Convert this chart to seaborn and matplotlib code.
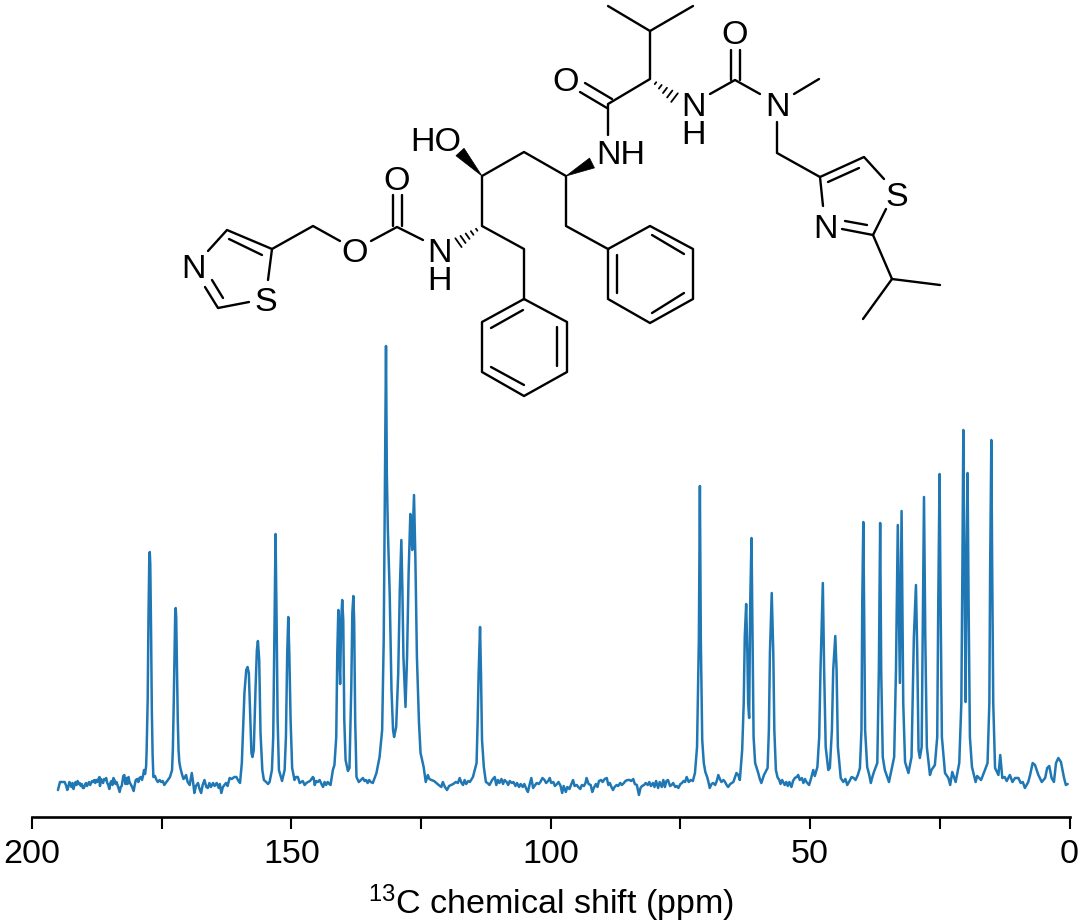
"""
13C NMR spectrum with the molecule drawn above it.
Spectrum values are read off the picture: (ppm, intensity), intensity in arbitrary units.
"""
import matplotlib
matplotlib.use('Agg')
import matplotlib.pyplot as plt
import pandas as pd
import seaborn as sns

# Spectrum, high ppm to low ppm
carbonyl_left = [
    (195.0, 0), (194.8, 4), (194.6, 8), (194.3, 8), (194.0, 8), (193.7, 8), (193.4, 4), (193.2, 0),
    (193.0, 3), (192.8, 8), (192.6, 6), (192.4, 3), (192.2, 7), (192.0, 1), (191.8, 5), (191.6, 8),
    (191.4, 5), (191.2, 9), (191.0, 6), (190.8, 7), (190.6, 4), (190.4, 6), (190.2, 2), (190.0, 2),
    (189.8, 5), (189.6, 7), (189.4, 4), (189.2, 6), (189.0, 8), (188.8, 5), (188.6, 7), (188.4, 9),
    (188.2, 8), (188.0, 10), (187.8, 7), (187.6, 10), (187.4, 8), (187.2, 11), (187.0, 13), (186.9, 4),
    (186.7, 11), (186.5, 9), (186.3, 7), (186.1, 11), (185.9, 10), (185.7, 12), (185.5, 7), (185.3, 5),
    (185.1, 1), (184.9, 7), (184.7, 9), (184.5, 5), (184.3, 12), (184.1, 10), (183.9, 6), (183.7, 8),
    (183.4, 3), (183.1, -2), (182.9, 3), (182.7, 4), (182.4, 14), (182.2, 15), (182.0, 6), (181.8, 12),
    (181.6, 6), (181.4, 13), (181.2, 8), (181.0, 6), (180.7, 3), (180.4, -1), (180.2, 5), (180.0, 10),
    (179.7, 11), (179.5, 8), (179.3, 12), (179.0, 13), (178.8, 10), (178.6, 14), (178.4, 20), (178.2, 16),
    (178.0, 24),
]
carbonyl_peaks = [
    (177.9, 40), (177.7, 90), (177.55, 170), (177.4, 228), (177.3, 238), (177.2, 226), (177.05, 160),
    (176.9, 80), (176.75, 35), (176.6, 13), (176.3, 14), (176.0, 10), (175.75, 8), (175.4, 10), (175.1, 8),
    (174.8, 9), (174.5, 5), (174.1, 8), (173.8, 10), (173.4, 13), (173.0, 20), (172.85, 40), (172.7, 80),
    (172.55, 130), (172.4, 175), (172.3, 182), (172.2, 172), (172.05, 120), (171.9, 70), (171.75, 40),
    (171.6, 28), (171.4, 22), (171.1, 16), (170.8, 11), (170.6, 12), (170.3, 15), (170.0, 8), (169.6, 5),
    (169.2, 17), (168.95, 8), (168.7, -3), (168.4, 4), (168.0, 7), (167.7, 1), (167.4, -3), (167.1, 5),
    (166.75, 10), (166.4, 3), (166.1, 2), (165.8, 7), (165.5, 3), (165.1, 7), (164.8, 4), (164.4, 7),
    (164.0, 2), (163.8, 6), (163.5, -3), (163.2, 3), (162.9, 5), (162.6, 7), (162.3, 4), (161.9, 12),
    (161.5, 11), (161.0, 13), (160.6, 13), (160.3, 10), (159.9, 7),
]
aromatic_peaks = [
    (159.55, 27), (159.05, 97), (158.7, 120), (158.45, 123), (158.2, 117), (157.9, 70), (157.7, 37),
    (157.5, 33), (157.25, 40), (156.9, 103), (156.65, 140), (156.45, 149), (156.2, 130), (155.95, 57),
    (155.6, 20), (155.3, 10), (154.85, 8), (154.5, 6), (154.2, 8), (153.75, 20), (153.5, 53), (153.25, 170),
    (153.05, 256), (152.85, 170), (152.65, 70), (152.4, 20), (151.8, 9), (151.3, 20), (151.05, 53),
    (150.8, 137), (150.6, 173), (150.4, 137), (150.15, 70), (149.85, 22), (149.4, 10), (149.1, 13),
    (148.75, 13), (148.4, 7), (148.1, 8), (147.8, 9), (147.45, 5), (147.1, 7), (146.8, 8), (146.4, 9),
    (145.85, 13), (145.7, 12), (145.5, 5), (145.2, 9), (144.9, 8), (144.55, 10), (144.2, 6), (143.9, 3),
    (143.6, 8), (143.3, 5), (143.0, 8), (142.7, 6), (142.45, 5), (142.0, 20), (141.7, 25), (141.35, 53),
    (141.15, 137), (140.95, 180), (140.8, 137), (140.6, 106), (140.4, 170), (140.2, 190), (140.0, 170),
    (139.8, 70), (139.55, 30), (139.1, 19), (138.8, 22), (138.45, 103), (138.25, 177), (138.05, 194),
    (137.9, 170), (137.7, 70), (137.45, 13), (137.0, 8), (136.6, 10), (136.2, 12), (135.9, 9), (135.6, 10),
    (135.3, 7), (135.0, 10), (134.7, 8), (134.3, 7), (133.6, 17), (133.0, 33), (132.5, 60), (132.2, 150),
    (132.0, 283), (131.76, 444), (131.6, 317), (131.4, 260), (131.05, 197), (130.7, 100), (130.4, 60),
    (130.2, 53), (129.8, 63), (129.4, 117), (129.1, 200), (128.8, 250), (128.6, 200), (128.4, 133), (128.0, 83),
    (127.7, 133), (127.4, 217), (127.07, 276), (126.9, 257), (126.7, 240), (126.36, 295), (126.1, 233),
    (125.8, 133), (125.4, 67), (125.1, 37), (124.5, 23), (124.1, 8), (123.7, 15), (123.4, 11), (123.0, 10),
    (122.5, 9), (122.05, 7), (121.6, 5), (121.1, 3), (120.8, 8), (120.4, 3), (120.0, 0), (119.6, 4), (119.2, 5),
    (118.8, 6), (118.3, 8), (117.9, 7), (117.55, 12), (117.2, 7), (116.9, 5), (116.6, 10), (116.3, 6),
    (115.9, 9), (115.6, 8), (115.0, 13), (114.3, 27), (114.1, 67), (113.9, 117), (113.63, 163), (113.45, 117),
    (113.25, 50), (112.9, 23), (112.5, 8), (112.2, 7), (111.8, 5), (111.3, 10), (110.8, 13), (110.5, 5),
]
empty_middle = [
    (110.2, 10), (109.9, 7), (109.5, 11), (109.2, 6), (108.9, 10), (108.5, 8), (108.2, 5), (107.9, 9),
    (107.5, 7), (107.2, 8), (106.8, 4), (106.5, 7), (106.1, 3), (105.8, 6), (105.4, 3), (105.1, 6),
    (104.7, 1), (104.4, -2), (104.1, 5), (103.75, 12), (103.4, 2), (103.0, 5), (102.7, 7), (102.3, 6),
    (102.0, 8), (101.6, 12), (101.2, 10), (100.9, 7), (100.5, 9), (100.2, 12), (99.9, 7), (99.5, 8),
    (99.2, 4), (98.8, 6), (98.5, 8), (98.1, 4), (97.8, -3), (97.5, 4), (97.1, -2), (96.8, 3), (96.4, 1),
    (96.1, 5), (95.7, 10), (95.4, 4), (95.0, 5), (94.7, 3), (94.3, 1), (94.0, 5), (93.6, 4), (93.3, 7),
    (93.1, 12), (92.7, 6), (92.3, 5), (92.0, -2), (91.7, 2), (91.3, 6), (91.0, 3), (90.7, 9), (90.3, 10),
    (90.0, 8), (89.6, 11), (89.2, 12), (88.9, 5), (88.6, 7), (88.3, 3), (88.0, 0), (87.7, 3), (87.3, 5),
    (87.0, 4), (86.6, 7), (86.3, 5), (85.9, 7), (85.6, 9), (85.2, 10), (84.8, 10), (84.5, 9), (84.1, 11),
    (83.8, 6), (83.4, 5), (83.0, -5), (82.7, 2), (82.4, 4), (82.0, 5), (81.7, 7), (81.3, 5), (81.0, 8),
    (80.7, 4), (80.3, 7), (80.0, 3), (79.7, 9), (79.3, 2), (79.0, 8), (78.6, 3), (78.3, 10), (78.0, 3),
    (77.7, 9), (77.4, 10), (77.0, 4), (76.7, 5), (76.4, 7), (76.0, 3), (75.7, 4), (75.4, 2), (75.0, 6),
    (74.7, 7), (74.4, 9), (74.1, 8), (73.8, 13), (73.4, 8), (73.0, 10), (72.6, 9),
]
aliphatic_peaks = [
    (72.2, 17), (71.8, 43), (71.45, 150), (71.25, 304), (71.07, 150), (70.8, 50), (70.5, 27), (70.2, 18),
    (69.85, 13), (69.6, 8), (69.35, 2), (69.0, 6), (68.7, 7), (68.3, 5), (68.0, 9), (67.7, 15), (67.4, 11),
    (67.1, 8), (66.7, 10), (66.4, 8), (66.1, 5), (65.8, 3), (65.4, 6), (64.8, 8), (64.2, 17), (63.85, 15),
    (63.55, 10), (63.1, 40), (62.8, 87), (62.6, 153), (62.33, 186), (62.1, 137), (61.95, 87), (61.75, 72),
    (61.55, 187), (61.3, 252), (61.1, 153), (60.9, 53), (60.6, 27), (60.0, 17), (59.7, 11), (59.4, 7),
    (58.9, 15), (58.2, 22), (57.95, 60), (57.75, 137), (57.4, 197), (57.1, 137), (56.9, 60), (56.6, 20),
    (56.3, 13), (55.95, 10), (55.7, 6), (55.4, 10), (55.2, 8), (54.9, 5), (54.6, 8), (54.3, 4), (54.0, 8),
    (53.6, 3), (53.3, 9), (52.95, 12), (52.6, 13), (52.3, 15), (52.0, 10), (51.6, 12), (51.3, 7), (51.0, 11),
    (50.7, 8), (50.2, 5), (49.8, 12), (49.4, 20), (49.1, 14), (48.6, 23), (48.25, 53), (48.0, 120), (47.55, 207),
    (47.3, 120), (47.0, 43), (46.5, 20), (46.2, 22), (45.8, 60), (45.55, 120), (45.15, 154), (44.9, 120),
    (44.65, 43), (44.1, 12), (43.6, 8), (43.2, 11), (42.85, 5), (42.4, 9), (42.0, 13), (41.6, 12), (41.25, 10),
    (40.8, 15), (40.4, 22), (40.1, 60), (39.95, 187), (39.75, 268), (39.6, 187), (39.4, 60), (39.0, 23),
    (38.6, 15), (38.3, 7), (38.0, 13), (37.7, 18), (37.05, 27), (36.75, 120), (36.5, 267), (36.3, 120), (36.0, 33),
    (35.6, 20), (35.2, 14), (34.8, 8), (34.4, 18), (33.8, 33), (33.45, 120), (33.1, 265), (32.7, 107),
    (32.37, 279), (32.05, 87), (31.7, 28), (31.05, 17), (30.45, 33), (30.0, 153), (29.6, 205), (29.35, 137),
    (29.1, 40), (28.85, 32), (28.5, 43), (28.3, 153), (28.05, 293), (27.8, 153), (27.5, 43), (26.9, 15),
    (26.6, 20), (25.95, 25), (25.5, 53), (25.3, 187), (25.05, 316), (24.85, 187), (24.6, 53), (24.0, 17),
    (23.35, 12), (23.0, 5), (22.6, 18), (21.95, 8), (21.25, 27), (20.85, 87), (20.65, 220), (20.47, 360),
    (20.2, 187), (20.03, 88), (19.85, 220), (19.65, 317), (19.45, 187), (19.2, 53), (18.8, 23), (18.1, 8),
    (17.8, 14), (17.05, 10), (16.3, 20), (15.8, 27), (15.45, 87), (15.3, 220), (15.07, 350), (14.9, 220),
    (14.7, 87), (14.35, 22), (13.7, 15), (13.35, 35), (12.95, 12), (12.5, 13), (12.1, 9), (11.5, 15),
    (11.0, 8), (10.5, 12), (9.85, 12), (9.4, 7), (9.0, 8), (8.6, 2), (7.95, 8), (7.6, 15), (7.1, 27),
    (6.65, 25), (6.0, 15), (5.35, 8), (4.7, 12), (4.3, 22), (3.9, 24), (3.45, 12), (3.0, 8), (2.6, 27),
    (2.15, 32), (1.65, 28), (1.05, 12), (0.7, 5), (0.35, 6),
]

tick_ppm = [200, 175, 150, 125, 100, 75, 50, 25, 0]
tick_labels = ['200', '', '150', '', '100', '', '50', '', '0']
x_label = '$^{13}$C chemical shift (ppm)'

# Molecule, in picture pixels
bonds = [
    # left thiazole
    [(208, 251), (227, 230), (272, 249), (268, 280)], [(229, 239), (262, 255)],
    [(249, 302), (218, 308), (205, 287)], [(223, 298), (212, 280)],
    # carbamate
    [(272, 249), (313, 226), (340, 241)], [(371, 241), (397, 227), (423, 240)],
    [(393, 226), (393, 195)], [(402, 226), (402, 195)],
    # backbone
    [(482, 226), (482, 176), (524, 152), (566, 176), (566, 226), (608, 249)],
    [(482, 226), (524, 249), (524, 299)],
    # lower phenyl
    [(524, 299), (482, 322), (482, 372), (524, 396), (567, 372), (567, 322), (524, 299)],
    [(491, 328), (523, 310)], [(491, 367), (524, 385)], [(557, 327), (557, 366)],
    # upper phenyl
    [(608, 249), (650, 226), (693, 249), (693, 299), (650, 323), (608, 299), (608, 249)],
    [(652, 235), (684, 254)], [(617, 255), (617, 293)], [(652, 313), (684, 293)],
    # valine
    [(608, 135), (608, 104), (650, 79), (650, 31)], [(608, 6), (650, 31), (693, 6)],
    [(580, 92), (607, 108)], [(585, 83), (612, 99)],
    # urea
    [(710, 94), (735, 80), (760, 94)], [(731, 80), (731, 50)], [(740, 80), (740, 50)],
    [(794, 94), (819, 79)], [(777, 122), (777, 153), (820, 177)],
    # right thiazole
    [(823, 206), (820, 177), (864, 157), (884, 179)], [(828, 182), (859, 168)],
    [(886, 209), (873, 235), (842, 229)], [(845, 221), (867, 225)],
    [(873, 235), (892, 279), (940, 285)], [(892, 279), (863, 319)],
]
atom_labels = [
    ('N', 194, 266), ('S', 266, 299), ('O', 355, 250), ('O', 397, 178), ('N', 440, 250), ('H', 440, 278),
    ('HO', 436, 139), ('NH', 621, 152), ('O', 566, 79), ('N', 693, 104), ('H', 693, 132), ('O', 735, 32),
    ('N', 777, 104), ('S', 897, 194), ('N', 825, 226),
]
solid_wedges = [((482, 176), (460, 152)), ((566, 176), (592, 163))]
hash_wedges = [((482, 226), (458, 243)), ((650, 79), (675, 98))]

df = pd.DataFrame(carbonyl_left + carbonyl_peaks + aromatic_peaks + empty_middle + aliphatic_peaks,
                  columns=['ppm', 'intensity'])

sns.set_theme(style='white')
plt.rcParams['font.family'] = ['Liberation Sans', 'DejaVu Sans']
plt.rcParams['mathtext.fontset'] = 'custom'
plt.rcParams['mathtext.rm'] = 'Liberation Sans'
plt.rcParams['mathtext.default'] = 'regular'

W, H = 1080, 924
fig = plt.figure(figsize=(W / 100, H / 100), dpi=100)

# Spectrum
ax = fig.add_axes([32 / W, 1 - 817 / H, (1069.5 - 32) / W, (817 - 340) / H])
sns.lineplot(data=df, x='ppm', y='intensity', sort=False, estimator=None, errorbar=None,
             color='#1f77b4', linewidth=1.8, ax=ax)
ax.set_xlim(200, 0)
ax.set_ylim(-27, 450)
ax.set_xticks(tick_ppm)
ax.set_xticklabels(tick_labels)
ax.set_yticks([])
ax.set_ylabel('')
ax.set_xlabel(x_label, fontsize=24.5, color='black', labelpad=8.5)
ax.tick_params(axis='x', bottom=True, length=8.6, width=1.5, pad=7.5, labelsize=24.5, colors='black')
sns.despine(ax=ax, left=True)
ax.spines['bottom'].set_linewidth(1.9)
ax.spines['bottom'].set_color('black')
ax.patch.set_alpha(0)

# Molecule overlay
mol = fig.add_axes([0, 0, 1, 1])
mol.set_xlim(0, W)
mol.set_ylim(H, 0)
mol.axis('off')
mol.patch.set_alpha(0)
for bond in bonds:
    xs, ys = zip(*bond)
    mol.plot(xs, ys, color='black', lw=1.7, solid_capstyle='round', solid_joinstyle='round')
for text, x, y in atom_labels:
    mol.text(x, y, text, ha='center', va='center_baseline', fontsize=24.5, color='black')
for (x0, y0), (x1, y1) in solid_wedges:
    dx, dy = x1 - x0, y1 - y0
    n = (dx ** 2 + dy ** 2) ** 0.5
    nx, ny = -dy / n * 5.5, dx / n * 5.5
    mol.fill([x0, x1 + nx, x1 - nx], [y0, y1 + ny, y1 - ny], color='black', lw=0.5)
for (x0, y0), (x1, y1) in hash_wedges:
    dx, dy = x1 - x0, y1 - y0
    n = (dx ** 2 + dy ** 2) ** 0.5
    for f in [0.22, 0.41, 0.6, 0.79, 0.98]:
        nx, ny = -dy / n * 5.5 * f, dx / n * 5.5 * f
        cx, cy = x0 + dx * f, y0 + dy * f
        mol.plot([cx + nx, cx - nx], [cy + ny, cy - ny], color='black', lw=1.3)

fig.savefig('out.png', dpi=100)
